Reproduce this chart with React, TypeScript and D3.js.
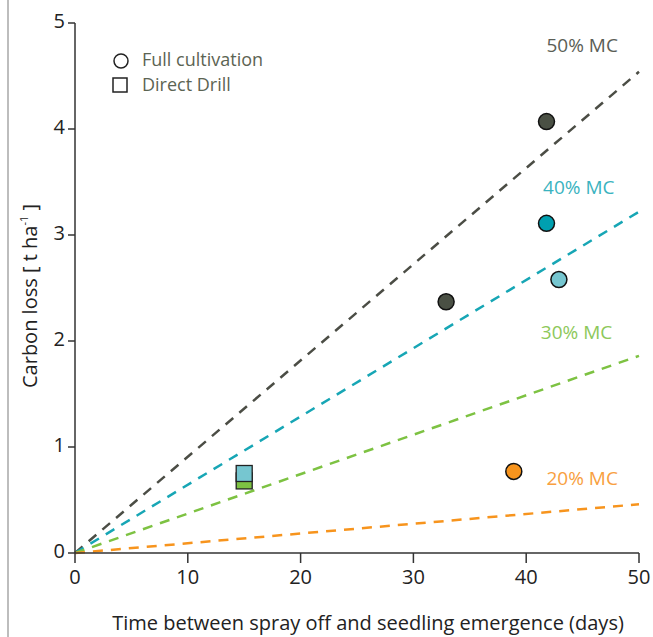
import React from "react";
import * as d3 from "d3";

const W = 653;
const H = 637;

const xTicks = [0, 10, 20, 30, 40, 50];
const yTicks = [0, 1, 2, 3, 4, 5];

const lineNames = ["50% MC", "40% MC", "30% MC", "20% MC"];
const lineEndValues = [4.54, 3.22, 1.86, 0.46];
const lineColors = ["#4b4d45", "#17a6b5", "#7dc242", "#f7941d"];
const labelColors = ["#5b5e56", "#3ab3c0", "#8dc85a", "#f8a040"];
const labelX = [41.8, 41.5, 41.3, 41.8];
const labelY = [4.77, 3.43, 2.07, 0.69];

const circleX = [41.8, 32.9, 41.8, 42.9, 38.9];
const circleY = [4.07, 2.37, 3.11, 2.58, 0.77];
const circleColors = ["#4a5044", "#4a5044", "#00a0b0", "#76c6d0", "#f7941d"];

const squareX = [15, 15];
const squareY = [0.68, 0.75];
const squareColors = ["#7dc242", "#76c6d0"];

const FONT = "'Open Sans', 'Noto Sans', sans-serif";
const FS = 20;

export default function App() {
  const x = d3.scaleLinear().domain([0, 50]).range([75, 639]);
  const y = d3.scaleLinear().domain([0, 5]).range([553, 23]);
  const line = d3
    .line<[number, number]>()
    .x((d) => x(d[0]))
    .y((d) => y(d[1]));

  return (
    <svg
      width={W}
      height={H}
      style={{ position: "absolute", left: 0, top: 0, background: "#fff" }}
      fontFamily={FONT}
    >
      <line x1={8} x2={8} y1={0} y2={H} stroke="#bdbdbd" strokeWidth={2} />

      {/* dashed lines */}
      {lineEndValues.map((v, i) => (
        <path
          key={i}
          d={line([
            [0, 0],
            [50, v],
          ]) || ""}
          stroke={lineColors[i]}
          strokeWidth={2.5}
          strokeDasharray="10,8"
          fill="none"
        />
      ))}
      {lineNames.map((n, i) => (
        <text
          key={n}
          x={x(labelX[i])}
          y={y(labelY[i])}
          fill={labelColors[i]}
          fontSize={FS - 1}
          dominantBaseline="middle"
        >
          {n}
        </text>
      ))}

      {/* axes */}
      <line x1={x(0)} x2={x(0)} y1={y(5)} y2={y(0)} stroke="#333" strokeWidth={1.5} />
      <line x1={x(0)} x2={x(50)} y1={y(0)} y2={y(0)} stroke="#333" strokeWidth={1.5} />
      {yTicks.map((t) => (
        <g key={t}>
          <line x1={x(0) - 7} x2={x(0)} y1={y(t)} y2={y(t)} stroke="#333" strokeWidth={1.5} />
          <text
            x={x(0) - 10}
            y={y(t)}
            textAnchor="end"
            dominantBaseline="middle"
            fontSize={FS}
            fill="#222"
          >
            {t}
          </text>
        </g>
      ))}
      {xTicks.map((t) => (
        <g key={t}>
          <line x1={x(t)} x2={x(t)} y1={y(0)} y2={y(0) + 10} stroke="#333" strokeWidth={1.5} />
          <text
            x={x(t)}
            y={y(0) + 26}
            textAnchor="middle"
            dominantBaseline="middle"
            fontSize={FS}
            fill="#222"
          >
            {t}
          </text>
        </g>
      ))}

      <text
        x={368}
        y={625}
        textAnchor="middle"
        dominantBaseline="middle"
        fontSize={FS}
        fill="#222"
      >
        Time between spray off and seedling emergence (days)
      </text>
      <text
        transform={`translate(32,296) rotate(-90)`}
        textAnchor="middle"
        dominantBaseline="middle"
        fontSize={FS}
        fill="#222"
      >
        Carbon loss [ t ha
        <tspan dy={-7} fontSize={11}>-1</tspan>
        <tspan dy={7}> ]</tspan>
      </text>

      {/* points */}
      {squareX.map((v, i) => (
        <rect
          key={i}
          x={x(v) - 8}
          y={y(squareY[i]) - 8}
          width={16}
          height={16}
          fill={squareColors[i]}
          stroke="#222"
          strokeWidth={1.3}
        />
      ))}
      {circleX.map((v, i) => (
        <circle
          key={i}
          cx={x(v)}
          cy={y(circleY[i])}
          r={8}
          fill={circleColors[i]}
          stroke="#111"
          strokeWidth={1.5}
        />
      ))}

      {/* legend */}
      <circle cx={121} cy={61} r={7} fill="#fff" stroke="#222" strokeWidth={1.5} />
      <text x={142} y={61} dominantBaseline="middle" fontSize={18} fill="#5c6453">
        Full cultivation
      </text>
      <rect x={113} y={78} width={14} height={14} fill="#fff" stroke="#222" strokeWidth={1.5} />
      <text x={142} y={86} dominantBaseline="middle" fontSize={18} fill="#5c6453">
        Direct Drill
      </text>
    </svg>
  );
}
